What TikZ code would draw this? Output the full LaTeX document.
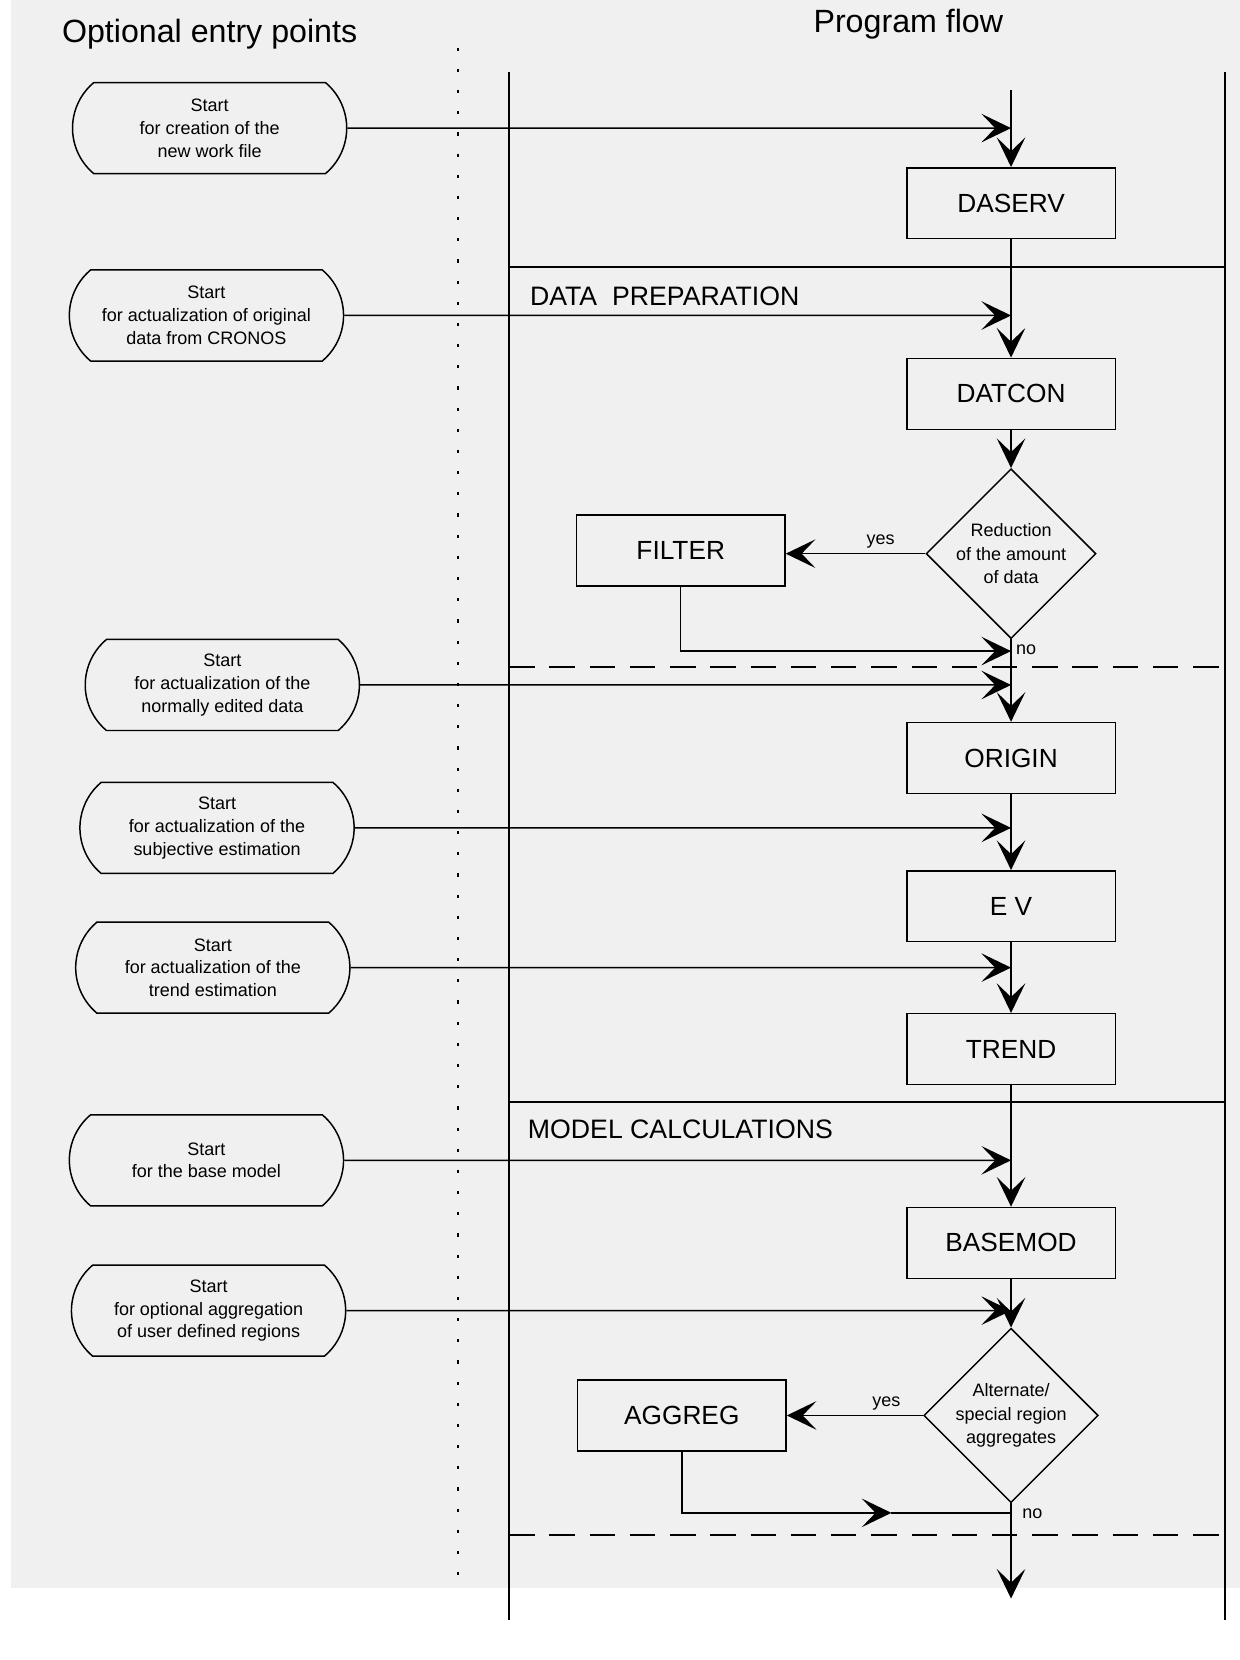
\documentclass[tikz,border=0pt]{standalone}
\usepackage{fontspec}
\setmainfont{Liberation Sans}
\usetikzlibrary{arrows.meta,positioning,shapes.geometric,shapes.misc}
\definecolor{scangray}{RGB}{240,240,240}

\tikzset{
  entry/.style={draw, rounded rectangle, rounded rectangle arc length=100,
    minimum width=133.5pt, minimum height=43pt, inner sep=2pt, align=center,
    font=\fontsize{8.5}{10.75}\selectfont},
  proc/.style={draw, rectangle, minimum width=98.5pt, minimum height=33.5pt,
    font=\fontsize{12.4}{15}\selectfont},
  query/.style={draw, diamond, aspect=1, minimum width=80pt, minimum height=78.5pt,
    inner sep=0pt, align=center, font=\fontsize{8.5}{11}\selectfont},
  lbl/.style={font=\fontsize{8.5}{10}\selectfont, inner sep=2pt},
  section/.style={font=\fontsize{12.6}{15}\selectfont, inner sep=0pt, anchor=west},
  heading/.style={font=\fontsize{15.2}{18}\selectfont},
  lane/.style={line width=0.7pt},
  flow/.style={-{Stealth[length=14pt,width=13.5pt,inset=6.5pt]}, line width=0.7pt},
}

\begin{document}
\begin{tikzpicture}[x=0.5pt,y=-0.5pt,node distance=60pt,on grid,line width=0.7pt]
\useasboundingbox (0,0) rectangle (1171,1568);
\fill[scangray] (10,0) rectangle (1171,1500);

% headings
\node[heading] (hdentry) at (198,32) {Optional entry points};
\node[heading] (hdflow) at (858,23) {Program flow};

% lanes and sections
\draw[dash pattern=on 1.5pt off 8.5pt, line width=1pt] (433,45) -- (433,1490);
\draw[lane] (481,68) -- (481,1530);
\draw[lane] (1157,68) -- (1157,1530);
\draw[lane] (481,252) -- (1157,252);
\draw[lane] (481,1041) -- (1157,1041);
\draw[lane, dash pattern=on 12pt off 7pt] (481,630) -- (1157,630);
\draw[lane, dash pattern=on 12pt off 7pt] (481,1450) -- (1157,1450);
\node[section] (secprep) at (500,280) {DATA\ \ PREPARATION};
\node[section] (secmodel) at (498,1067) {MODEL CALCULATIONS};

% program flow
\node[proc] (daserv) at (955,192) {DASERV};
\node[proc, below=90pt of daserv] (datcon) {DATCON};
\node[query, below=75.5pt of datcon] (reduce) {Reduction\\of the amount\\of data};
\node[proc, left=156pt of reduce, yshift=1.5pt] (filter) {FILTER};
\node[proc, below=96.5pt of reduce] (origin) {ORIGIN};
\node[proc, below=70pt of origin] (ev) {E V};
\node[proc, below=67.5pt of ev] (trend) {TREND};
\node[proc, below=91.5pt of trend] (basemod) {BASEMOD};
\node[query, below=81.5pt of basemod] (altreg) {Alternate/\\special region\\aggregates};
\node[proc, left=155.5pt of altreg] (aggreg) {AGGREG};

% entry points
\node[entry] (s1) at (198,121) {Start\\for creation of the\\new work file};
\node[entry] (s2) at (195,298) {Start\\for actualization of original\\data from CRONOS};
\node[entry] (s3) at (210,647) {Start\\for actualization of the\\normally edited data};
\node[entry] (s4) at (205,782) {Start\\for actualization of the\\subjective estimation};
\node[entry] (s5) at (201,914) {Start\\for actualization of the\\trend estimation};
\node[entry] (s6) at (195,1096) {Start\\for the base model};
\node[entry] (s7) at (197,1238) {Start\\for optional aggregation\\of user defined regions};

\coordinate (top) at (955,85);
\coordinate (back1) at (955,615);
\coordinate (mid2) at (842,1429);
\coordinate (back2) at (955,1429);
\coordinate (bottom) at (955,1510);

\path[flow]
  (top) edge (daserv)
  (daserv) edge (datcon)
  (datcon) edge (reduce)
  (reduce) edge node[lbl, above, pos=0.32] {yes} (reduce -| filter.east)
  (reduce) edge (origin)
  (origin) edge (ev)
  (ev) edge (trend)
  (trend) edge (basemod)
  (basemod) edge (altreg)
  (altreg) edge node[lbl, above, pos=0.27] {yes} (aggreg)
  (altreg) edge (bottom)
  (s1) edge (s1 -| daserv)
  (s2) edge (s2 -| daserv)
  (s3) edge (s3 -| daserv)
  (s4) edge (s4 -| daserv)
  (s5) edge (s5 -| daserv)
  (s6) edge (s6 -| daserv)
  (s7) edge (s7 -| daserv);
\draw[flow] (filter.south) |- (back1);
\draw[flow] (aggreg.south) |- (mid2);
\draw (mid2) -- (back2);
\node[lbl, anchor=north west] (no1) at (reduce.south) {no};
\node[lbl, anchor=north west, xshift=3pt] (no2) at (altreg.south) {no};
\end{tikzpicture}
\end{document}
